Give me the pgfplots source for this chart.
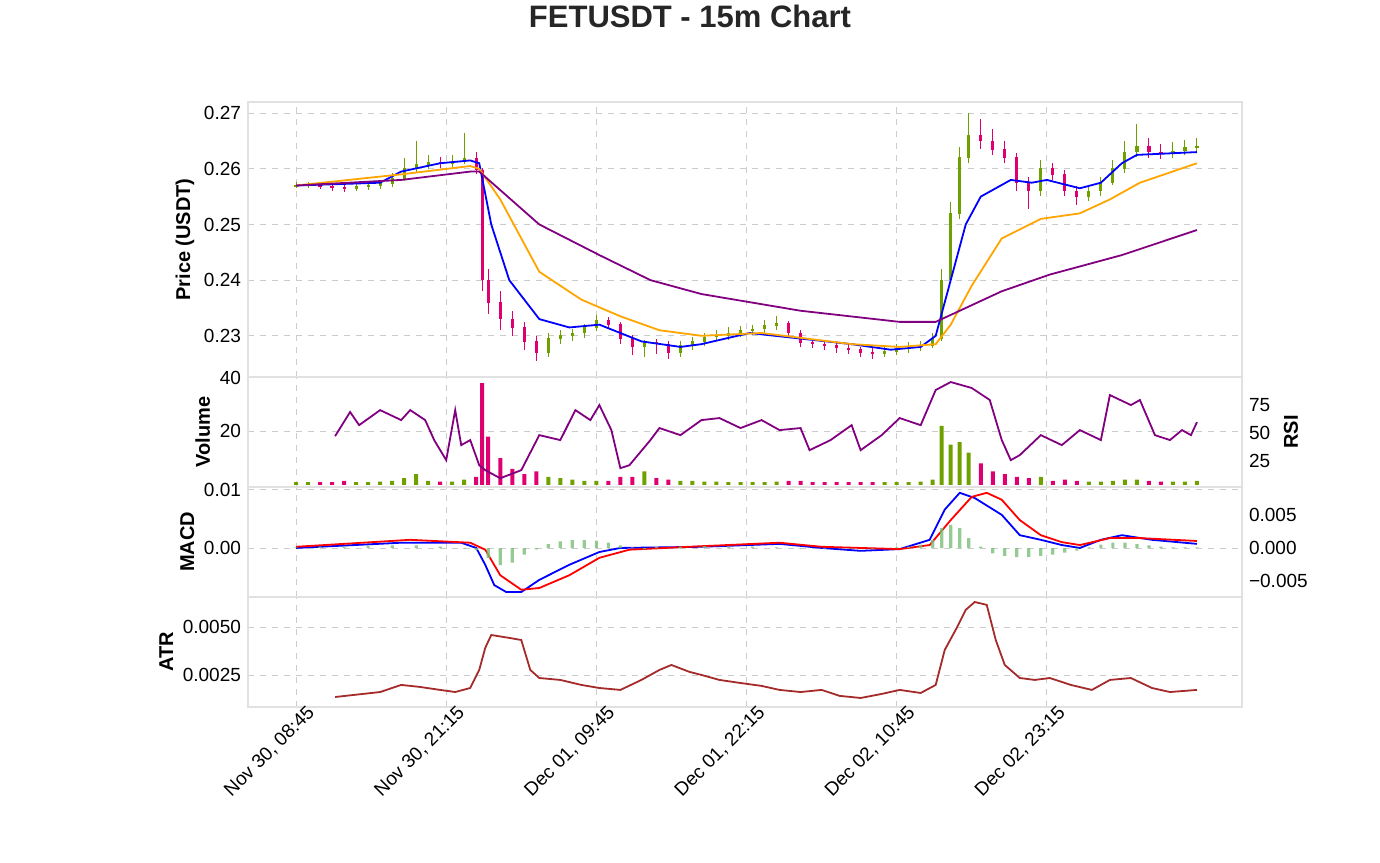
\documentclass[border=0pt]{standalone}
\usepackage{pgfplots}
\usepackage{pgfplotstable}
\usepackage{fontspec}
\setmainfont{Liberation Sans}
\pgfplotsset{compat=1.18}
\definecolor{upc}{RGB}{110,160,0}
\definecolor{dnc}{RGB}{222,0,112}
\definecolor{maor}{RGB}{255,165,0}
\definecolor{mapu}{RGB}{128,0,128}
\definecolor{hist}{RGB}{120,190,120}
\definecolor{atrc}{RGB}{165,42,42}
\definecolor{frame}{RGB}{225,225,225}
\pgfplotstableread{
x o h l c v
0 .2570 .2576 .2566 .2570 1
4 .2570 .2577 .2565 .2571 1
8 .2571 .2575 .2563 .2568 1
12 .2568 .2574 .2560 .2566 1
16 .2566 .2572 .2558 .2565 1.5
20 .2565 .2574 .2560 .2568 1
24 .2568 .2576 .2562 .2570 1
28 .2570 .2580 .2564 .2573 1.2
32 .2573 .2592 .2568 .2582 1.5
36 .2582 .2620 .2578 .2600 2.5
40 .2600 .2650 .2595 .2608 4
44 .2608 .2625 .2600 .2612 1.5
48 .2612 .2622 .2602 .2610 1.2
52 .2610 .2625 .2604 .2613 1.2
56 .2613 .2665 .2608 .2618 2
60 .2618 .2630 .2590 .2598 3
62 .2598 .2602 .2380 .2400 38
64 .2400 .2420 .2340 .2360 18
68 .2360 .2380 .2310 .2330 10
72 .2330 .2345 .2300 .2315 6
76 .2315 .2325 .2275 .2290 4
80 .2290 .2300 .2255 .2270 5
84 .2270 .2305 .2262 .2295 3
88 .2295 .2310 .2285 .2300 2.5
92 .2300 .2312 .2290 .2305 2
96 .2305 .2322 .2296 .2315 1.5
100 .2315 .2338 .2308 .2328 1.5
104 .2328 .2334 .2312 .2320 1.5
108 .2320 .2325 .2285 .2295 3
112 .2295 .2302 .2265 .2280 3
116 .2280 .2292 .2262 .2288 5
120 .2288 .2295 .2268 .2285 2.5
124 .2285 .2290 .2258 .2270 2
128 .2270 .2290 .2262 .2282 1.5
132 .2282 .2298 .2275 .2290 1.5
136 .2290 .2305 .2282 .2298 1.2
140 .2298 .2310 .2290 .2300 1.2
144 .2300 .2315 .2292 .2305 1
148 .2305 .2318 .2298 .2310 1
152 .2310 .2320 .2302 .2312 1
156 .2312 .2328 .2305 .2318 1
160 .2318 .2335 .2310 .2322 1.2
164 .2322 .2326 .2298 .2305 1.5
168 .2305 .2310 .2280 .2288 1.5
172 .2288 .2295 .2278 .2285 1
176 .2285 .2292 .2275 .2282 1
180 .2282 .2288 .2270 .2278 1
184 .2278 .2285 .2268 .2275 1
188 .2275 .2280 .2262 .2270 1
192 .2270 .2278 .2258 .2268 1
196 .2268 .2280 .2262 .2272 1
200 .2272 .2285 .2266 .2278 1
204 .2278 .2288 .2270 .2280 1
208 .2280 .2290 .2272 .2282 1.2
212 .2282 .2305 .2278 .2295 2
215 .2295 .2420 .2290 .2400 22
218 .2400 .2540 .2395 .2520 15
221 .2520 .2640 .2510 .2620 16
224 .2620 .2700 .2610 .2660 12
228 .2660 .2690 .2635 .2650 8
232 .2650 .2672 .2625 .2635 5
236 .2635 .2650 .2610 .2620 4
240 .2620 .2628 .2560 .2575 3
244 .2575 .2585 .2528 .2560 2.5
248 .2560 .2615 .2552 .2600 3
252 .2600 .2610 .2580 .2590 1.5
256 .2590 .2598 .2552 .2560 2
260 .2560 .2570 .2535 .2550 1.5
264 .2550 .2568 .2542 .2560 1.2
268 .2560 .2585 .2552 .2575 1.2
272 .2575 .2615 .2570 .2600 1.5
276 .2600 .2650 .2592 .2630 2
280 .2630 .2680 .2622 .2640 2
284 .2640 .2655 .2620 .2630 1.5
288 .2630 .2645 .2618 .2628 1.2
292 .2628 .2648 .2620 .2632 1.2
296 .2632 .2652 .2625 .2638 1.2
300 .2638 .2655 .2630 .2640 1.5
}\candles
\pgfplotstableread{
x y
0 .2570
28 .2575
35 .2595
48 .2610
58 .2615
61 .2610
65 .2500
71 .2400
81 .2330
91 .2315
101 .2320
115 .2290
128 .2280
135 .2285
151 .2305
168 .2295
185 .2285
198 .2275
208 .2280
213 .2300
218 .2400
223 .2500
228 .2550
238 .2580
245 .2575
250 .2580
261 .2565
268 .2575
275 .2610
280 .2625
300 .2630
}\mablue
\pgfplotstableread{
x y
0 .2570
35 .2590
58 .2605
61 .2600
68 .2545
81 .2415
95 .2365
108 .2335
121 .2310
135 .2300
155 .2305
185 .2285
201 .2280
213 .2285
218 .2320
225 .2390
235 .2475
248 .2510
261 .2520
271 .2545
281 .2575
300 .2610
}\maorange
\pgfplotstableread{
x y
0 .2570
35 .2580
58 .2595
61 .2595
81 .2500
101 .2445
118 .2400
135 .2375
168 .2345
201 .2325
213 .2325
221 .2345
235 .2380
251 .2410
275 .2445
300 .2490
}\mapurple
\pgfplotstableread{
x y
13 47.3
18 68.8
21 57.1
28 70.5
35 61.6
38 70.5
43 61.6
46 43.8
50 25.9
53 70.5
55 39.3
58 43.8
61 21.4
63 17
68 9.8
75 17
81 48.2
88 43.8
93 70.5
98 61.6
101 75
105 52.7
108 18.8
111 21.4
118 43.8
121 54.5
128 48.2
135 61.6
141 63.4
148 54.5
155 61.6
161 52.7
168 54.5
171 34.8
178 43.8
185 57.1
188 34.8
195 48.2
201 63.4
208 57.1
213 88.4
218 95.5
225 90.2
231 79.5
235 43.8
238 25.9
241 30.4
248 48.2
255 39.3
261 52.7
268 43.8
271 83.9
278 75
281 79.5
286 48.2
291 43.8
295 52.7
298 48.2
300 59.8
}\rsi
\pgfplotstableread{
x y
0 0
35 .0009
55 .0009
60 0
63 -.0029
66 -.0064
70 -.0076
75 -.0076
81 -.0055
91 -.0029
101 -.0007
108 0
135 .0002
161 .0007
175 0
188 -.0005
201 -.0002
211 .0014
216 .0066
221 .0095
226 .0086
235 .0057
241 .0022
248 .0014
255 .0005
261 0
268 .0014
275 .0022
285 .0014
300 .0007
}\macd
\pgfplotstableread{
x y
0 .0002
38 .0014
58 .0009
63 -.0003
68 -.0047
75 -.0072
81 -.0069
91 -.0047
101 -.0017
111 -.0003
135 .0003
161 .0009
175 .0002
201 -.0002
211 .0005
218 .0048
225 .0088
230 .0095
235 .0083
241 .0048
248 .0022
255 .0010
261 .0005
271 .0017
281 .0017
300 .0012
}\signal
\pgfplotstableread{
x y
0 .0001
8 .0002
16 .0002
24 .0003
32 .0004
40 .0004
48 .0002
56 -.0001
60 -.0003
64 -.0015
68 -.0026
72 -.0022
76 -.0010
80 -.0002
84 .0006
88 .0010
92 .0012
96 .0012
100 .0011
104 .0008
108 .0004
112 .0001
116 -.0002
120 .0002
128 .0002
136 .0003
144 .0002
152 .0002
160 .0001
168 -.0001
176 -.0001
184 -.0001
192 -.0001
200 .0001
204 .0002
208 .0005
212 .0012
215 .0030
218 .0035
221 .0030
224 .0015
228 .0002
232 -.0008
236 -.0012
240 -.0014
244 -.0014
248 -.0012
252 -.0010
256 -.0007
260 -.0004
264 .0001
268 .0005
272 .0008
276 .0008
280 .0006
284 .0004
288 .0002
292 .0001
296 .0001
300 .0001
}\hist
\pgfplotstableread{
x y
13 .00135
28 .00161
35 .00198
41 .00188
48 .00172
53 .00161
58 .00182
61 .00276
63 .00391
65 .00458
71 .00443
75 .00432
78 .00276
81 .00234
88 .00224
95 .00198
101 .00182
108 .00172
115 .00224
121 .00276
125 .00302
131 .00266
135 .00250
141 .00224
148 .00208
155 .00193
161 .00172
168 .00161
175 .00172
181 .00141
188 .00130
195 .00151
201 .00172
208 .00156
213 .00198
216 .00380
220 .00495
223 .00589
226 .00630
230 .00615
233 .00432
236 .00302
241 .00234
246 .00224
251 .00234
258 .00198
265 .00172
271 .00224
278 .00234
285 .00182
291 .00161
300 .00172
}\atr
\pgfplotsset{
  base/.style={scale only axis, width=497pt, xmin=-16, xmax=315,
    xtick={0,50,...,250}, xticklabels={}, grid=major,
    grid style={dashed, gray!40, line width=0.4pt},
    axis line style={frame, line width=1.2pt}, tick style={draw=none},
    scaled y ticks=false, ticklabel style={font=\fontsize{9.5}{11}\selectfont},
    label style={font=\fontsize{10}{12}\selectfont\bfseries},
    /pgf/number format/assume math mode=true, anchor=south west,
    ylabel shift=-2pt},
  over/.style={scale only axis, width=497pt, xmin=-16, xmax=315,
    axis x line=none, axis y line*=right, axis line style={draw=none},
    tick style={draw=none}, scaled y ticks=false,
    ticklabel style={font=\fontsize{9.5}{11}\selectfont},
    label style={font=\fontsize{10}{12}\selectfont\bfseries},
    /pgf/number format/assume math mode=true, anchor=south west},
  candle/.style 2 args={draw=none, mark=none, forget plot,
    error bars/.cd, y dir=both, y explicit, error mark=none,
    error bar style={draw=#1, line width=#2, line cap=butt}}
}
\begin{document}
\begin{tikzpicture}
\path[use as bounding box] (0,0) rectangle (690pt,431pt);
\node[font=\fontsize{15.5}{18}\selectfont\bfseries, text=black!85] at (345pt,423pt) {FETUSDT - 15m Chart};
% price
\begin{axis}[base, at={(124pt,242.5pt)}, height=137.5pt, ymin=0.2226, ymax=0.272,
  ytick={0.23,0.24,0.25,0.26,0.27}, yticklabel style={/pgf/number format/.cd,fixed,precision=2},
  ylabel={Price (USDT)}]
\addplot[candle={upc}{0.5pt}]
  table[x=x, y expr={\thisrow{c}>=\thisrow{o} ? (\thisrow{h}+\thisrow{l})/2 : nan},
  y error plus expr={(\thisrow{h}-\thisrow{l})/2}, y error minus expr={(\thisrow{h}-\thisrow{l})/2}] {\candles};
\addplot[candle={upc}{1.6pt}]
  table[x=x, y expr={\thisrow{c}>=\thisrow{o} ? (\thisrow{c}+\thisrow{o})/2 : nan},
  y error plus expr={abs(\thisrow{c}-\thisrow{o})/2+0.00006}, y error minus expr={abs(\thisrow{c}-\thisrow{o})/2+0.00006}] {\candles};
\addplot[candle={dnc}{0.5pt}]
  table[x=x, y expr={\thisrow{c}<\thisrow{o} ? (\thisrow{h}+\thisrow{l})/2 : nan},
  y error plus expr={(\thisrow{h}-\thisrow{l})/2}, y error minus expr={(\thisrow{h}-\thisrow{l})/2}] {\candles};
\addplot[candle={dnc}{1.6pt}]
  table[x=x, y expr={\thisrow{c}<\thisrow{o} ? (\thisrow{c}+\thisrow{o})/2 : nan},
  y error plus expr={abs(\thisrow{c}-\thisrow{o})/2+0.00006}, y error minus expr={abs(\thisrow{c}-\thisrow{o})/2+0.00006}] {\candles};
\addplot[blue, line width=0.9pt] table {\mablue};
\addplot[maor, line width=0.9pt] table {\maorange};
\addplot[mapu, line width=0.9pt] table {\mapurple};
\end{axis}
% volume
\begin{axis}[base, at={(124pt,187.5pt)}, height=55pt, ymin=-0.8, ymax=40.3,
  ytick={20,40}, ylabel={Volume}]
\addplot[ybar, bar width=2pt, bar shift=0pt, fill=upc, draw=none]
  table[x=x, y expr={\thisrow{c}>=\thisrow{o} ? \thisrow{v} : nan}] {\candles};
\addplot[ybar, bar width=2pt, bar shift=0pt, fill=dnc, draw=none]
  table[x=x, y expr={\thisrow{c}<\thisrow{o} ? \thisrow{v} : nan}] {\candles};
\node[font=\fontsize{9.5}{11}\selectfont] at (axis description cs:-0.06,1.02) {$10^6$};
\end{axis}
\begin{axis}[over, at={(124pt,187.5pt)}, height=55pt, ymin=2, ymax=100,
  ytick={25,50,75}, ylabel={RSI}]
\addplot[mapu, line width=0.9pt] table {\rsi};
\end{axis}
% macd
\begin{axis}[base, at={(124pt,132.5pt)}, height=55pt, ymin=-0.00845, ymax=0.0105,
  ytick={0,0.01}, yticklabel style={/pgf/number format/.cd,fixed,fixed zerofill,precision=2},
  ylabel={MACD}]
\addplot[blue, line width=0.9pt] table {\macd};
\addplot[red, line width=0.9pt] table {\signal};
\end{axis}
\begin{axis}[over, at={(124pt,132.5pt)}, height=55pt, ymin=-0.00742, ymax=0.00924,
  ytick={-0.005,0,0.005}, yticklabels={−0.005,0.000,0.005}]
\addplot[ybar, bar width=1.6pt, fill=hist, draw=none, fill opacity=0.8] table {\hist};
\end{axis}
% atr
\begin{axis}[base, at={(124pt,77.5pt)}, height=55pt, ymin=0.00083, ymax=0.00656,
  ytick={0.0025,0.005}, yticklabel style={/pgf/number format/.cd,fixed,fixed zerofill,precision=4},
  ylabel={ATR},
  xticklabels={{Nov 30, 08:45},{Nov 30, 21:15},{Dec 01, 09:45},{Dec 01, 22:15},{Dec 02, 10:45},{Dec 02, 23:15}},
  xticklabel style={rotate=45, anchor=north east, xshift=8pt, yshift=1pt}]
\addplot[atrc, line width=0.9pt] table {\atr};
\end{axis}
\end{tikzpicture}
\end{document}
